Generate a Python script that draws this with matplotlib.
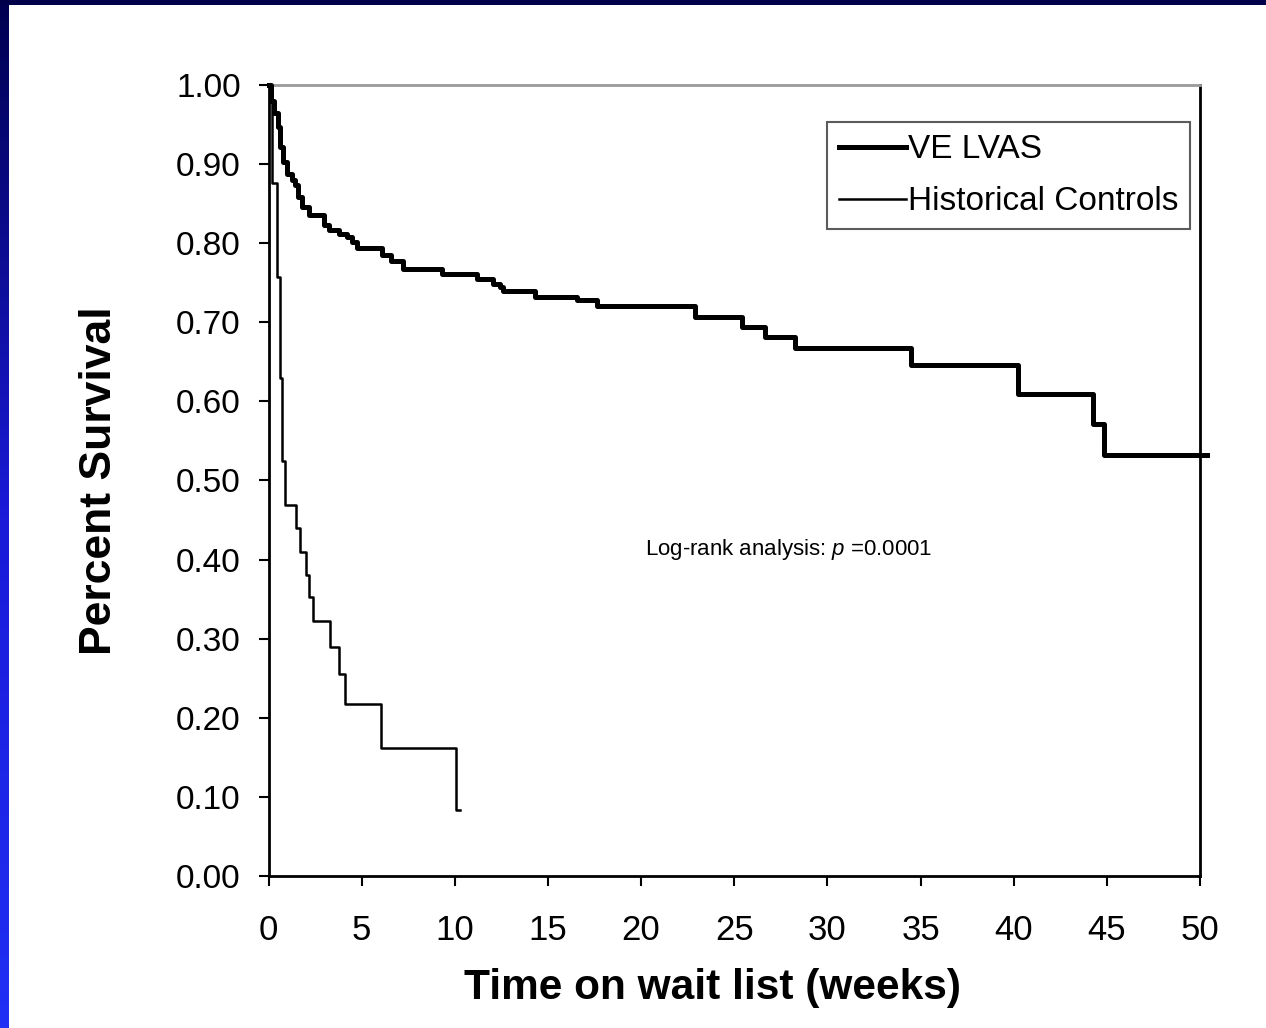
import numpy as np
import matplotlib
matplotlib.use('Agg')
import matplotlib.pyplot as plt
from matplotlib.ticker import FormatStrFormatter
from matplotlib.colors import LinearSegmentedColormap

plt.rcParams['font.family'] = ['Liberation Sans', 'DejaVu Sans']
plt.rcParams['mathtext.fontset'] = 'custom'
plt.rcParams['mathtext.it'] = 'Liberation Sans:italic'
plt.rcParams['mathtext.rm'] = 'Liberation Sans'

# Kaplan-Meier curves (weeks, survival after the step)
ve_weeks = [0, 0.13, 0.28, 0.51, 0.62, 0.76, 0.99, 1.26, 1.44, 1.58, 1.80, 2.16,
            2.96, 3.23, 3.77, 4.21, 4.48, 4.73, 6.08, 6.60, 7.20, 9.30, 11.18,
            12.05, 12.43, 12.59, 14.30, 16.54, 17.62, 22.89, 25.40, 26.65, 28.26,
            34.49, 40.25, 44.27, 44.86, 50.36]
ve_surv = [1.0, 0.980, 0.964, 0.947, 0.922, 0.903, 0.888, 0.880, 0.874, 0.859,
           0.846, 0.836, 0.823, 0.817, 0.812, 0.808, 0.802, 0.794, 0.785, 0.777,
           0.768, 0.761, 0.755, 0.749, 0.745, 0.739, 0.732, 0.728, 0.721, 0.707,
           0.694, 0.681, 0.667, 0.646, 0.609, 0.572, 0.532, 0.532]

hc_weeks = [0, 0.19, 0.48, 0.63, 0.72, 0.90, 1.49, 1.71, 2.03, 2.16, 2.37, 3.32,
            3.77, 4.09, 6.04, 10.06, 10.28]
hc_surv = [1.0, 0.876, 0.757, 0.630, 0.525, 0.469, 0.440, 0.410, 0.380, 0.353,
           0.323, 0.290, 0.255, 0.217, 0.162, 0.083, 0.083]

x_ticks = list(range(0, 51, 5))
y_ticks = [0.0, 0.1, 0.2, 0.3, 0.4, 0.5, 0.6, 0.7, 0.8, 0.9, 1.0]

fig = plt.figure(figsize=(12.66, 10.28), dpi=100)
fig.patch.set_facecolor('white')

# blue slide frame on the left and top
grad = LinearSegmentedColormap.from_list('frame', ['#000050', '#1a1ad8', '#2030f5'])
bax = fig.add_axes([0, 0, 9 / 1266, 1])
bax.imshow(np.linspace(0, 1, 256).reshape(-1, 1), aspect='auto', cmap=grad)
bax.axis('off')
tax = fig.add_axes([0, 1 - 5 / 1028, 1, 5 / 1028])
tax.set_facecolor('#00004a')
tax.set_xticks([])
tax.set_yticks([])
for s in tax.spines.values():
    s.set_visible(False)

ax = fig.add_axes([268.5 / 1266, 1 - 876 / 1028, 931.5 / 1266, 791 / 1028])
ax.step(ve_weeks, ve_surv, where='post', color='black', lw=3.6,
        label='VE LVAS', clip_on=False, zorder=3)
ax.step(hc_weeks, hc_surv, where='post', color='black', lw=1.8,
        label='Historical Controls', zorder=3)

ax.set_xlim(0, 50)
ax.set_ylim(0, 1.0)
ax.set_xticks(x_ticks)
ax.set_yticks(y_ticks)
ax.yaxis.set_major_formatter(FormatStrFormatter('%.2f'))
ax.tick_params(axis='y', direction='out', length=7, width=1.5, labelsize=24, pad=13)
ax.tick_params(axis='x', direction='out', length=7, width=1.5, labelsize=25, pad=20)

for side in ['left', 'bottom', 'right']:
    ax.spines[side].set_linewidth(2)
    ax.spines[side].set_color('black')
ax.spines['top'].set_linewidth(2)
ax.spines['top'].set_color('#9a9a9a')

ax.set_xlabel('Time on wait list (weeks)', fontsize=30.5, fontweight='bold', va='center')
ax.xaxis.set_label_coords(0.477, -0.1416)
ax.set_ylabel('Percent Survival', fontsize=32, fontweight='bold', va='center', ha='center')
ax.yaxis.set_label_coords(-0.181, 0.5)

ax.text(0.558, 0.413, r'Log-rank analysis: $p$ =0.0001', transform=ax.transAxes,
        fontsize=16, ha='center', va='center')

leg = ax.legend(loc='upper right', bbox_to_anchor=(0.9893, 0.953), borderaxespad=0,
                fontsize=24, frameon=True, fancybox=False, handlelength=2.0,
                handletextpad=0.06, borderpad=0.36, labelspacing=0.63)
leg.get_frame().set_edgecolor('#333333')
leg.get_frame().set_linewidth(1.5)

fig.savefig('out.png', dpi=100)
